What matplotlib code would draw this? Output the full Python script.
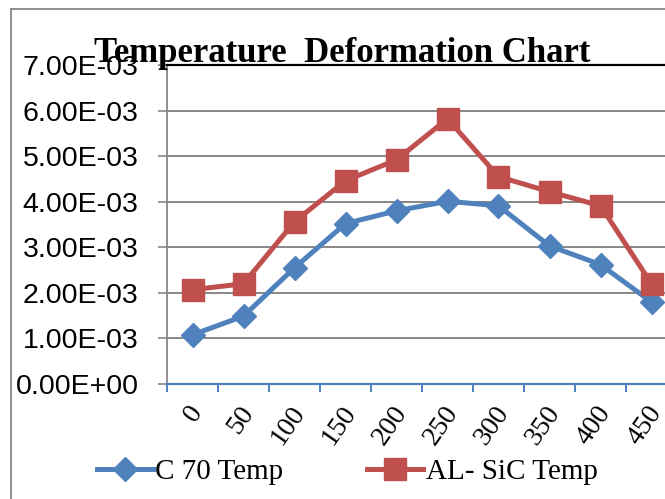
import matplotlib
matplotlib.use("Agg")
import matplotlib.pyplot as plt
from matplotlib.lines import Line2D
import matplotlib.transforms as mtransforms

# data
temps = ["0", "50", "100", "150", "200", "250", "300", "350", "400", "450"]
c70 = [1.08e-3, 1.49e-3, 2.55e-3, 3.52e-3, 3.80e-3, 4.01e-3, 3.91e-3, 3.03e-3, 2.62e-3, 1.80e-3]
alsic = [2.07e-3, 2.20e-3, 3.56e-3, 4.46e-3, 4.92e-3, 5.82e-3, 4.55e-3, 4.22e-3, 3.91e-3, 2.20e-3]
yticks = [0, 1e-3, 2e-3, 3e-3, 4e-3, 5e-3, 6e-3, 7e-3]
ylabels = ["0.00E+00", "1.00E-03", "2.00E-03", "3.00E-03", "4.00E-03",
           "5.00E-03", "6.00E-03", "7.00E-03"]

blue = "#4F81BD"
red = "#C0504D"
grey = "#878787"
serif = ["Liberation Serif", "DejaVu Serif"]
sans = ["Liberation Sans", "DejaVu Sans"]

W, H = 665, 499
fig = plt.figure(figsize=(W / 100, H / 100), dpi=100)

# outer chart border (right and bottom run off the picture)
fig.add_artist(Line2D([11 / W, 1], [1 - 9 / H, 1 - 9 / H], color=grey, lw=1.3))
fig.add_artist(Line2D([11 / W, 11 / W], [1 - 9 / H, 0], color=grey, lw=1.3))

ax = fig.add_axes([167 / W, 1 - 384 / H, 510 / W, 319 / H])
x = list(range(len(temps)))

ax.plot(x, c70, color=blue, lw=3.6, marker="D", ms=12, label="C 70 Temp", zorder=3)
ax.plot(x, alsic, color=red, lw=3.6, marker="s", ms=15.5, label="AL- SiC Temp", zorder=4)

ax.set_xlim(-0.5, len(temps) - 0.5)
ax.set_ylim(0, 7e-3)
ax.set_yticks(yticks)
ax.set_yticklabels(ylabels, family=sans, fontsize=20.5)
ax.yaxis.grid(True, color=grey, lw=1.4)
ax.set_axisbelow(True)
ax.tick_params(axis="y", length=6.5, width=1.2, color=grey, pad=14)

ax.set_xticks(x)
ax.set_xticklabels(temps, family=serif, fontsize=20, rotation=55,
                   ha="right", va="top", rotation_mode="anchor")
ax.tick_params(axis="x", which="major", length=0, pad=0)
ax.set_xticks([i - 0.5 for i in range(len(temps) + 1)], minor=True)
ax.tick_params(axis="x", which="minor", length=6, width=1.4, color=blue)
shift = mtransforms.ScaledTranslation(-5 / 100, -17 / 100, fig.dpi_scale_trans)
for lab in ax.get_xticklabels():
    lab.set_transform(lab.get_transform() + shift)

ax.spines["right"].set_visible(False)
ax.spines["top"].set_color("black")
ax.spines["top"].set_linewidth(1.6)
ax.spines["left"].set_color(grey)
ax.spines["left"].set_linewidth(1.3)
ax.spines["bottom"].set_color(blue)
ax.spines["bottom"].set_linewidth(1.6)

fig.text(342 / W, 1 - 62 / H, "Temperature  Deformation Chart", family=serif,
         fontsize=25, fontweight="bold", ha="center", va="baseline")

fig.legend(loc="center", bbox_to_anchor=(347 / W, 1 - 472 / H), ncol=2,
           frameon=False, prop={"family": serif, "size": 21},
           handlelength=1.92, handletextpad=0.1, columnspacing=2.85)

fig.savefig("out.png", dpi=100)
